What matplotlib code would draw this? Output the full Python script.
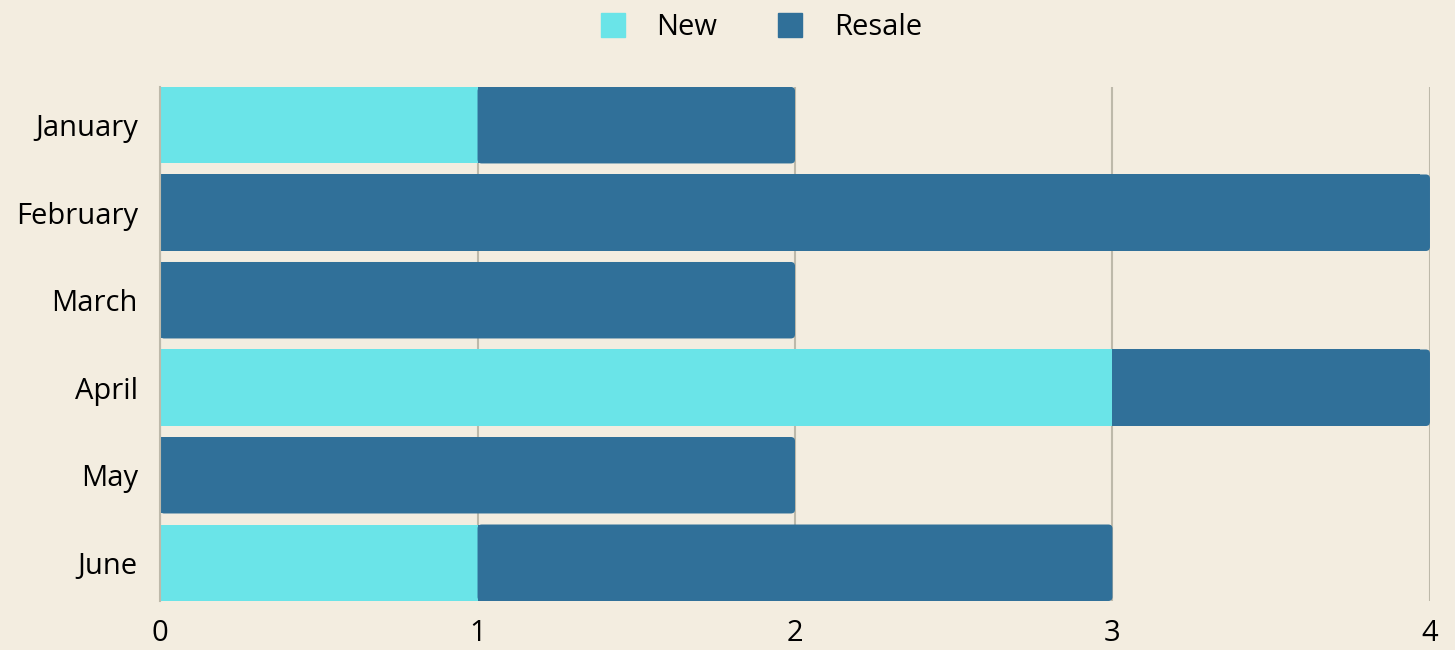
import numpy as np
import matplotlib.pyplot as plt
from matplotlib.patches import FancyBboxPatch
from matplotlib.lines import Line2D

months = ['January', 'February', 'March', 'April', 'May', 'June']
new = [1, 0, 0, 3, 0, 1]
resale = [1, 4, 2, 1, 2, 2]

bg = '#F3EDE0'
c_new = '#6AE4E8'
c_res = '#307099'
h = 0.874

plt.rcParams['font.family'] = ['Open Sans', 'DejaVu Sans']

fig = plt.figure(figsize=(14.55, 6.5), dpi=100, facecolor=bg)
ax = fig.add_axes([0.110, 0.0754, 0.8728, 0.7908])
ax.set_facecolor(bg)

y = np.arange(len(months))
new = np.array(new)
resale = np.array(resale)
total = new + resale

# new part, plain rectangles
ax.barh(y, new, height=h, color=c_new, zorder=3)

# resale part, rounded on the right end only
for i in range(len(months)):
    if resale[i] == 0:
        continue
    p = FancyBboxPatch((new[i], y[i] - h / 2), resale[i], h,
                       boxstyle='round,pad=0,rounding_size=0.013',
                       mutation_aspect=317.5 / 87.5,
                       facecolor=c_res, edgecolor='none', zorder=3)
    ax.add_patch(p)
    ax.barh(y[i], resale[i] - 0.03, left=new[i], height=h, color=c_res, zorder=3)

ax.set_xlim(0, 4)
ax.set_ylim(5 + h / 2, -h / 2)
ax.set_xticks([0, 1, 2, 3, 4])
ax.set_yticks(y)
ax.set_yticklabels(months)
ax.tick_params(axis='both', length=0, labelsize=21, colors='black')
ax.tick_params(axis='y', pad=16)
ax.tick_params(axis='x', pad=13)

for s in ['top', 'right', 'bottom']:
    ax.spines[s].set_visible(False)
ax.spines['left'].set_color('#BDB9AA')
ax.spines['left'].set_linewidth(1.5)
ax.spines['left'].set_zorder(4)
ax.grid(axis='x', color='#BDB9AA', linewidth=1.5, zorder=0)
ax.set_axisbelow(True)

handles = [Line2D([], [], marker='s', linestyle='none', markersize=17, color=c_new),
           Line2D([], [], marker='s', linestyle='none', markersize=17, color=c_res)]
fig.legend(handles, ['New', 'Resale'], loc='center', bbox_to_anchor=(0.5175, 0.958),
           ncol=2, frameon=False, fontsize=21, columnspacing=1.5, handletextpad=0.5)

fig.savefig('out.png', dpi=100, facecolor=bg)
